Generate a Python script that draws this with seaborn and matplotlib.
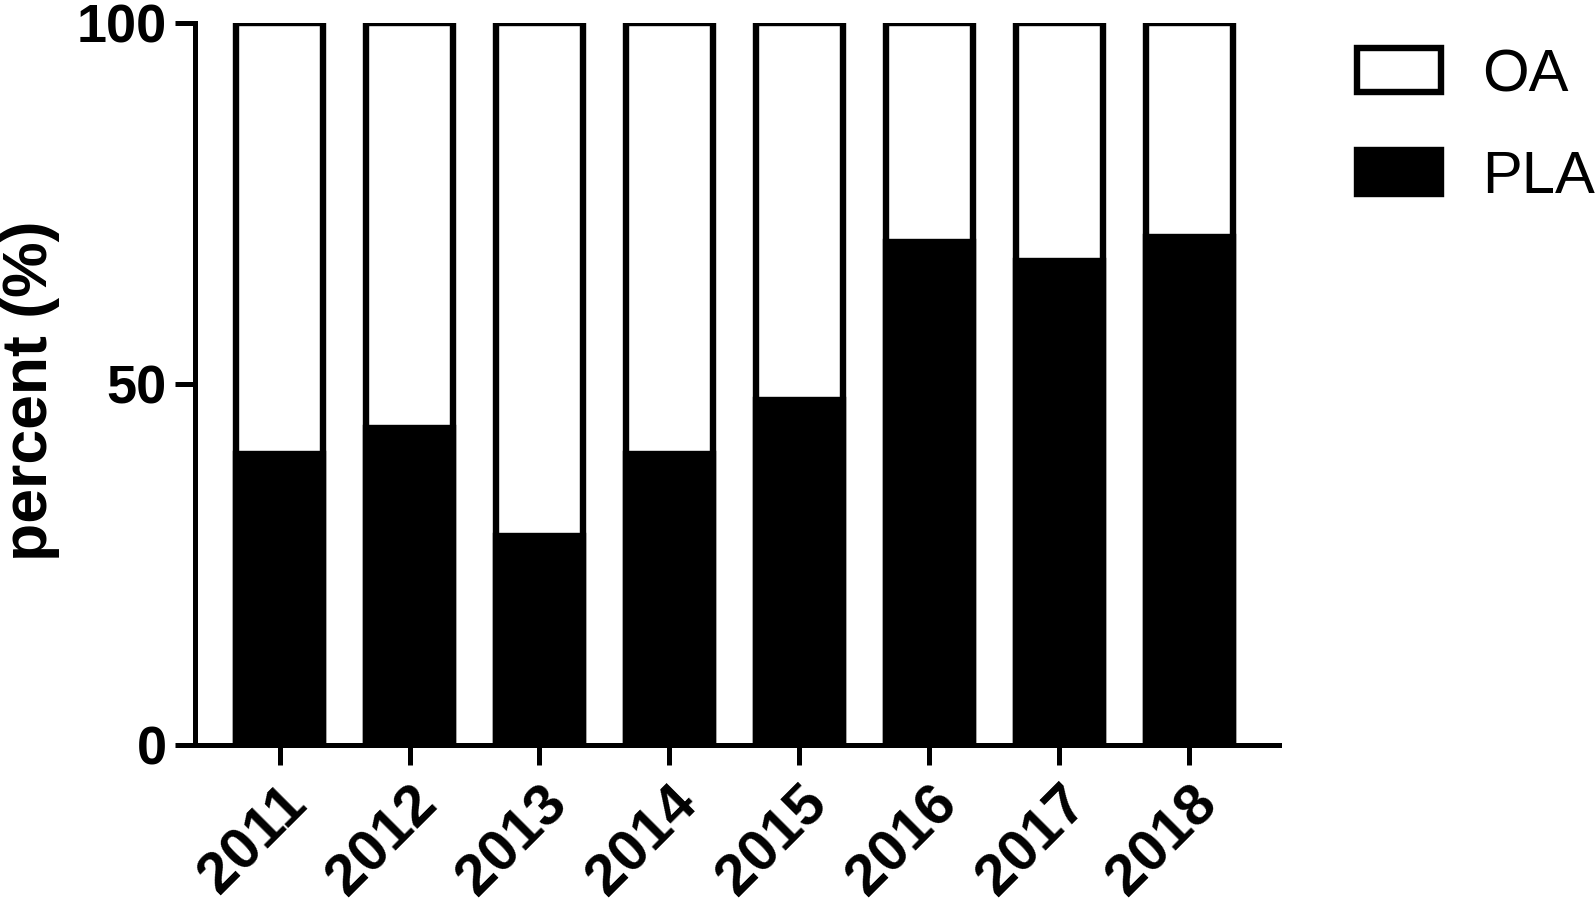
import matplotlib
matplotlib.use("Agg")
import matplotlib.pyplot as plt
import seaborn as sns
import pandas as pd
from matplotlib.patches import Patch

years = ["2011", "2012", "2013", "2014", "2015", "2016", "2017", "2018"]
pla = [40.3, 43.9, 28.9, 40.3, 47.8, 69.6, 67.1, 70.4]
oa = [59.7, 56.1, 71.1, 59.7, 52.2, 30.4, 32.9, 29.6]
series_names = ["OA", "PLA"]
yticks = [0, 50, 100]

df = pd.DataFrame({"year": years, "PLA": pla, "OA": oa})
df["total"] = df["PLA"] + df["OA"]

sns.set_theme(style="white")
plt.rcParams["font.family"] = ["Liberation Sans", "DejaVu Sans"]
for k in ["text.color", "axes.labelcolor", "xtick.color", "ytick.color", "axes.edgecolor"]:
    plt.rcParams[k] = "black"

fig = plt.figure(figsize=(15.95, 9.05), dpi=100)
ax = fig.add_axes([0.1223, 0.1768, 0.6796, 0.7978])

lw = 4.6
sns.barplot(data=df, x="year", y="total", color="white", edgecolor="black",
            linewidth=lw, width=0.665, ax=ax, saturation=1)
sns.barplot(data=df, x="year", y="PLA", color="black", edgecolor="black",
            linewidth=lw, width=0.665, ax=ax, saturation=1)

ax.set_xlim(-0.65, 7.69)
ax.set_ylim(0, 100)
ax.set_yticks(yticks)
ax.set_yticklabels([str(t) for t in yticks], fontsize=39, fontweight="bold")
ax.set_xticks(range(len(years)))
ax.set_xticklabels(years, fontsize=42, fontweight="bold", rotation=45,
                   ha="right", rotation_mode="anchor")
ax.set_xlabel("")
ax.set_ylabel("percent (%)", fontsize=45, fontweight="bold")
ax.yaxis.set_label_coords(-0.125, 0.49)

for s in ["top", "right"]:
    ax.spines[s].set_visible(False)
for s in ["left", "bottom"]:
    ax.spines[s].set_linewidth(3.6)
    ax.spines[s].set_color("black")
    ax.spines[s].set_capstyle("projecting")

ax.tick_params(axis="y", direction="out", length=14.4, width=3.6, pad=6, left=True, color="black")
ax.tick_params(axis="x", direction="out", length=14.4, width=3.6, pad=8, bottom=True, color="black")
ax.grid(False)
ax.set_facecolor("white")

handles = [Patch(facecolor="white", edgecolor="black", linewidth=lw),
           Patch(facecolor="black", edgecolor="black", linewidth=lw)]
fig.legend(handles, series_names, loc="upper left",
           bbox_to_anchor=(1357 / 1595, 1 - 48 / 905), bbox_transform=fig.transFigure,
           frameon=False, fontsize=43, handlelength=1.4, handleheight=0.75,
           handletextpad=0.7, labelspacing=0.78, borderpad=0, borderaxespad=0)

fig.savefig("out.png", dpi=100, facecolor="white")
